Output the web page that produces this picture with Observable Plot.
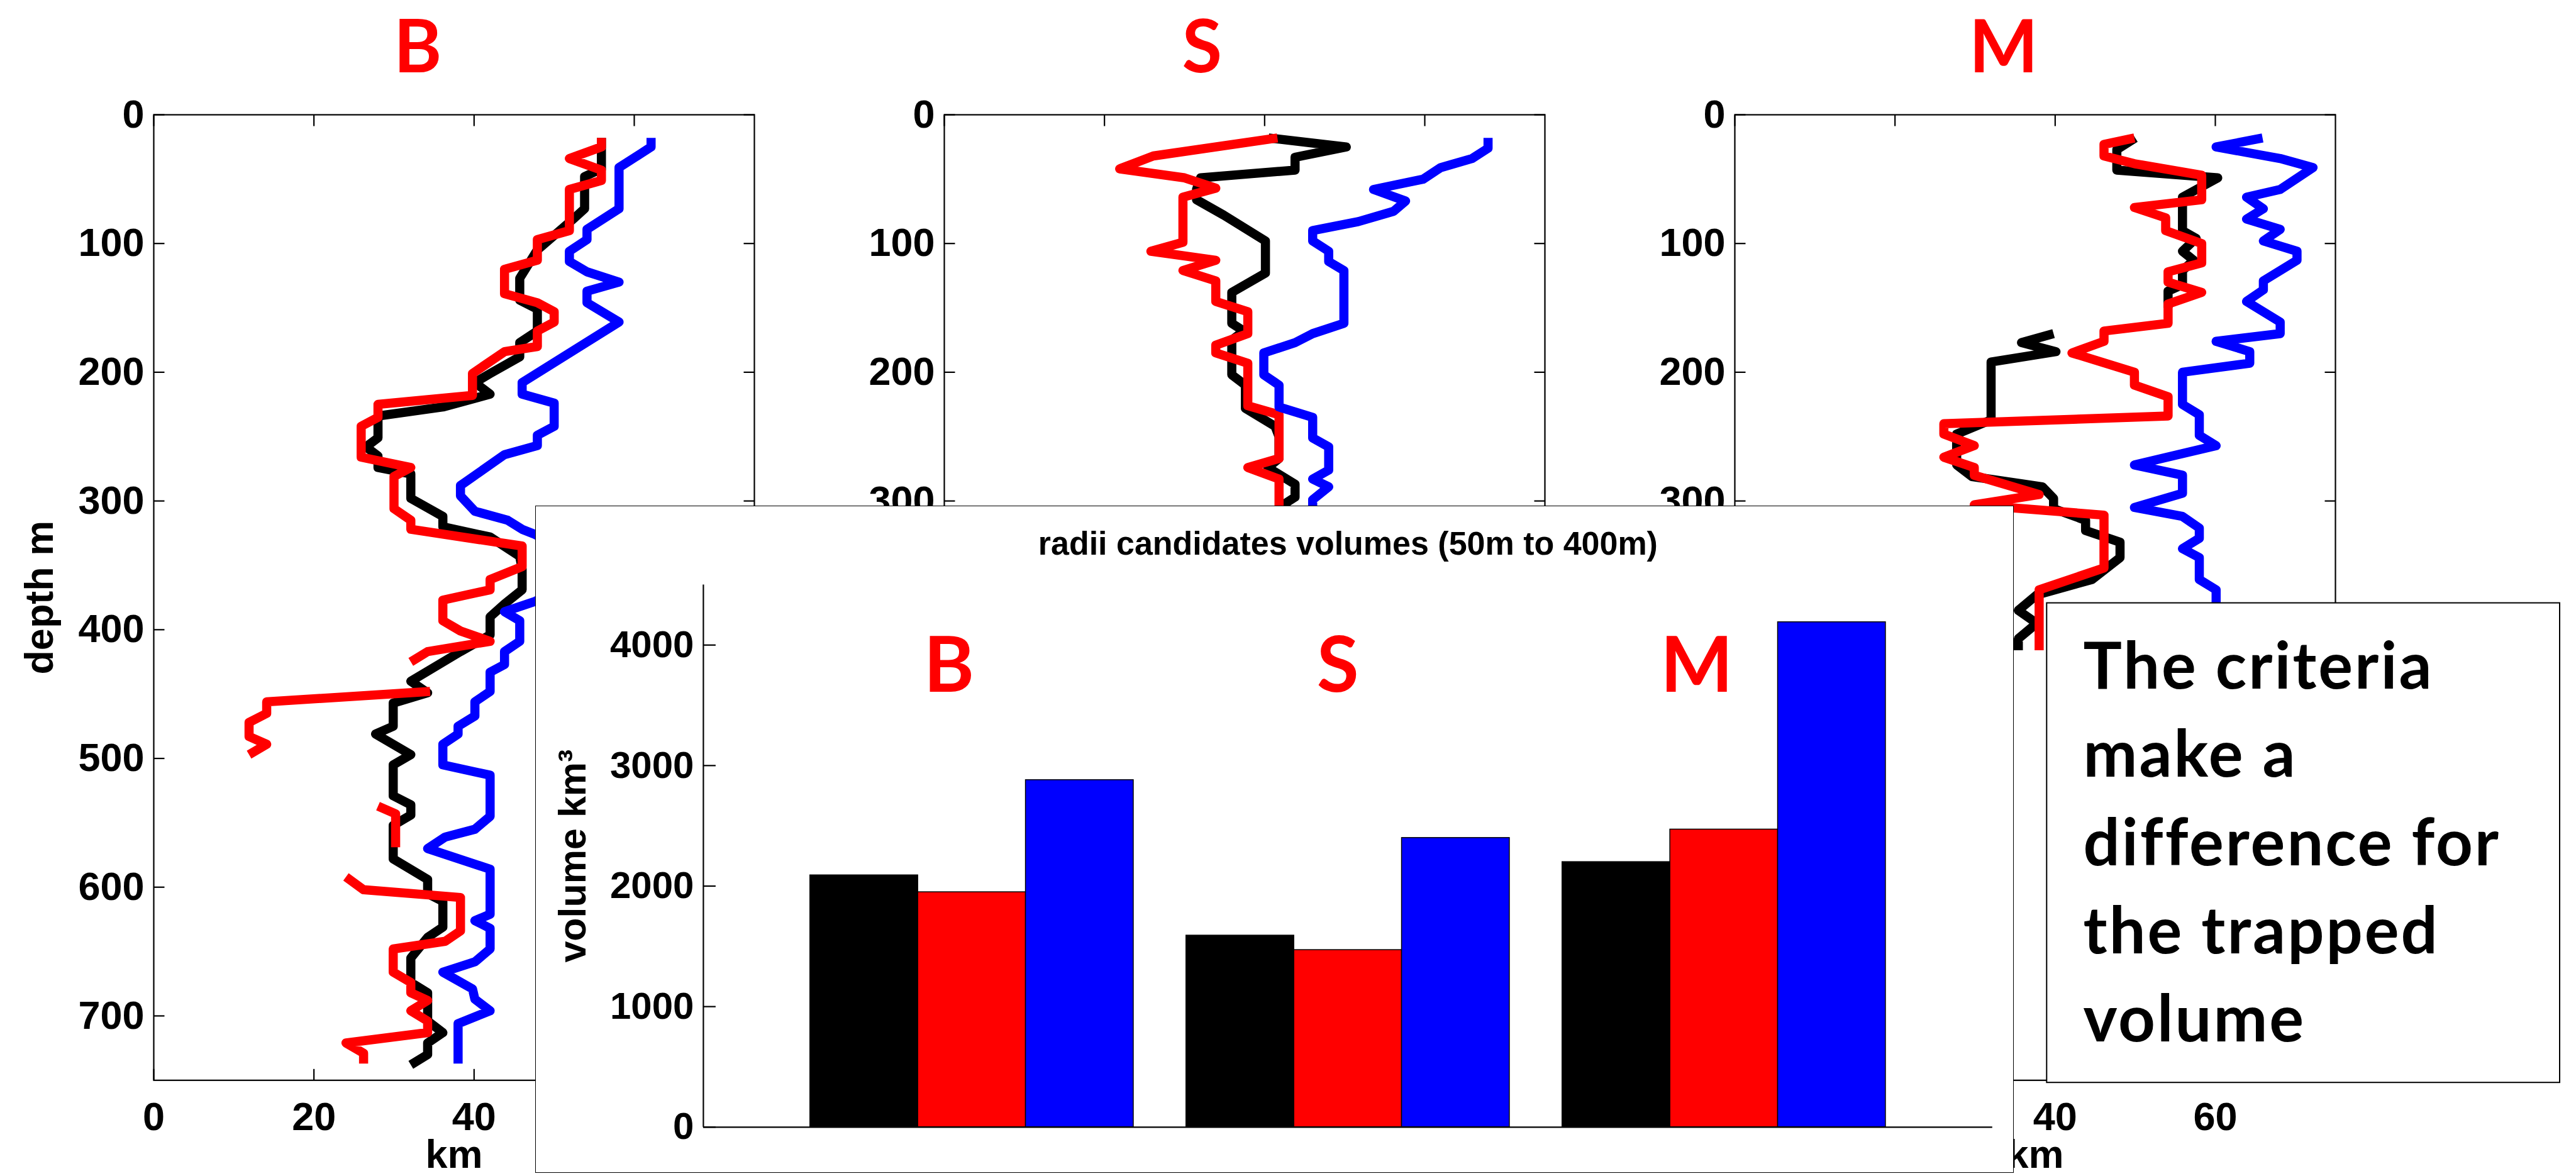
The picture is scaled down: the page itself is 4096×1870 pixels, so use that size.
<!DOCTYPE html>
<html><head><meta charset="utf-8">
<script src="https://cdn.jsdelivr.net/npm/d3@7"></script>
<script src="https://cdn.jsdelivr.net/npm/@observablehq/plot@0.6"></script>
<style>
html,body{margin:0;padding:0;background:#fff;}
#root{position:relative;width:4096px;height:1870px;overflow:hidden;background:#fff;}
#root > *{position:absolute;}
</style></head><body><div id="root"></div>
<script>
// ---------- data ----------
const panelNames = ["B", "S", "M"];
const depthTicks = [0, 100, 200, 300, 400, 500, 600, 700];
const kmTicks = [0, 20, 40, 60];
const kmDomain = [0, 75];
const depthDomain = [0, 750];
// tick labels not hidden behind the inset / note box
const visibleDepthLabels = [[0, 100, 200, 300, 400, 500, 600, 700], [0, 100, 200, 300], [0, 100, 200, 300]];
const visibleKmLabels = [[0, 20, 40], [], [40, 60]];

// [km, depth m] ; [null,null] = gap
const B_black = [[55.9,18],[55.9,42],[53.8,48],[53.8,73],[52.2,82],[47.9,105],[45.7,127],[45.7,144],[47.9,151],[47.9,168],[45.7,177],[45.7,188],[42,201],[40.1,208],[42,217],[36.1,227],[28,234],[28,251],[26.5,258],[28,265],[28,274],[32.1,279],[32.1,298],[36.1,312],[36.1,320],[42,328],[45.7,343],[46,353],[46,369],[43.8,380],[42,390],[42,404],[38.3,417],[32.1,440],[34.2,449],[29.9,457],[29.9,475],[27.7,481],[32.1,497],[29.9,505],[29.9,529],[32.1,536],[32.1,544],[29.9,552],[29.9,578],[34.2,594],[34.2,605],[36.1,611],[36.1,631],[34.2,639],[32.1,655],[32.1,674],[34.2,682],[34.2,704],[36.1,713],[34.2,721],[34.2,730],[32.1,738]];
const B_red = [[55.9,18],[55.9,25],[51.9,34],[55.9,43],[55.9,51],[51.9,58],[51.9,90],[47.9,97],[47.9,113],[43.8,120],[43.8,139],[47.9,146],[50,153],[50,161],[47.9,168],[47.9,180],[43.8,184],[39.8,201],[39.8,218],[28,225],[28,235],[25.9,242],[25.9,266],[32.1,274],[30,281],[30,306],[32.1,315],[32.1,322],[46,335],[46,351],[42,361],[42,369],[36.1,377],[36.1,393],[38.3,401],[42,409],[34.2,417],[32.1,425],[null,null],[34.5,448],[14.1,456],[14.1,465],[11.9,472],[11.9,483],[14.1,489],[11.9,497],[null,null],[28,537],[30.2,543],[30.2,569],[null,null],[24,592],[26.2,602],[38.3,608],[38.3,634],[36.4,642],[29.9,648],[29.9,666],[32.1,674],[32.1,682],[34.2,688],[32.1,696],[34.2,704],[34.2,713],[24,721],[26.2,729],[26.2,737]];
const B_blue = [[62.1,18],[62.1,25],[58.1,41],[58.1,73],[54.1,89],[54.1,97],[51.9,106],[51.9,114],[54.1,122],[58.1,130],[54.1,137],[54.1,146],[58.1,161],[46,208],[46,217],[50,224],[50,242],[47.9,249],[47.9,257],[43.8,264],[38.3,288],[38.3,296],[40.1,308],[44.2,315],[46,322],[47.6,326],[52,340],[52,365],[47.6,378],[43.8,386],[45.7,393],[45.7,409],[43.8,417],[43.8,427],[42,433],[42,448],[40.1,456],[40.1,467],[38,475],[38,481],[36.1,489],[36.1,505],[42,513],[42,545],[40.1,555],[36.4,561],[34.2,570],[42,586],[42,621],[40.1,626],[42,632],[42,648],[40.1,658],[36.1,666],[39.8,679],[40.1,687],[42,696],[38,706],[38,737]];

const S_black = [[40.5,18],[50.2,25],[43.8,33],[43.8,43],[32,49],[31.5,58],[31.5,66],[34.9,78],[40.1,98],[40.1,123],[35.9,138],[35.9,162],[37.4,168],[35.9,175],[35.9,202],[37.6,210],[37.6,228],[41.3,242],[41.8,250],[41.8,267],[40.4,274],[43.8,287],[43.8,297],[42.3,303],[42.3,312]];
const S_red = [[41.6,18],[26.1,32],[21.9,42],[30,49],[33.9,57],[29.8,64],[29.8,99],[25.8,106],[33.9,113],[29.8,121],[33.9,129],[33.9,145],[37.9,153],[37.9,170],[33.9,179],[33.9,185],[37.9,193],[37.9,226],[41.8,233],[41.8,267],[37.9,274],[41.8,283],[41.8,312]];
const S_blue = [[67.9,18],[67.9,26],[65.9,34],[62,41],[59.8,50],[53.6,58],[57.6,67],[56.1,75],[51.7,83],[46,90],[46,98],[48,106],[48,114],[49.9,121],[49.9,162],[46,170],[43.8,177],[39.9,185],[39.9,202],[41.8,210],[41.8,227],[46,235],[46,251],[48,258],[48,276],[46,283],[48,289],[46,299],[46,312]];

const M_black = [[50,18],[47.7,27],[47.7,43],[60.3,49],[55.9,64],[55.9,90],[57.6,96],[55.9,106],[57.3,113],[55.9,121],[55.9,132],[54.1,137],[54.1,150],[null,null],[39.8,170],[35.8,177],[40.1,184],[32,192],[32,237],[27.7,248],[27.7,272],[29.6,281],[38.4,289],[39.8,298],[39.8,306],[43.8,315],[43.8,323],[48.1,332],[48.1,344],[44.6,361],[37.7,373],[35.4,385],[37.7,395],[35.4,407],[35.4,416]];
const M_red = [[49.9,18],[46.1,23],[46.1,32],[49.9,38],[58.3,47],[58.3,66],[49.9,72],[53.8,80],[53.8,90],[58.3,100],[58.3,115],[54.1,122],[54.1,130],[58.3,138],[54.1,147],[54.1,162],[46.1,168],[46.1,176],[42.1,185],[49.9,200],[49.9,210],[54.1,219],[54.1,234],[26.1,240],[26.1,248],[29.9,257],[26.1,266],[29.9,274],[29.9,280],[38,295],[29.9,303],[46.1,311],[46.1,352],[38,369],[38,416]];
const M_blue = [[65.9,18],[60.1,25],[68.1,34],[72.2,41],[68.1,58],[63.9,64],[66,73],[63.9,81],[68.1,89],[66,98],[70.2,106],[70.2,113],[66,129],[66,136],[63.9,145],[68.1,161],[68.1,170],[60.1,176],[64.3,184],[64.3,193],[55.9,200],[55.9,225],[58,233],[58,249],[60.1,257],[49.9,272],[55.9,280],[55.9,294],[49.9,305],[55.9,312],[58,321],[58,329],[55.9,337],[58,344],[58,361],[60.1,369],[60.1,392]];

// inset bar chart
const barGroups = ["B", "S", "M"];
const volBlack = [2090, 1590, 2200];
const volRed = [1950, 1470, 2470];
const volBlue = [2880, 2400, 4190];
const volTicks = [0, 1000, 2000, 3000, 4000];
const volDomain = [0, 4500];
const barTitle = "radii candidates volumes (50m to 400m)";
const noteLines = ["The criteria", "make a", "difference for", "the trapped", "volume"];

// ---------- layout (output px) ----------
const root = document.getElementById("root");
const C = {black: "#000000", red: "#ff0000", blue: "#0000ff"};
const AX_FONT = "'Liberation Sans', Arial, Helvetica, sans-serif";
const FW = 955, FH = 1535.3, FT = 181.5;
const PM = {l: 230, r: 20, t: 20, b: 170};

function profilePanel(series, frameLeft, k) {
  const marks = [
    ...series.map(([data, color]) => Plot.line(data, {x: d => d[0], y: d => d[1], stroke: color, strokeWidth: 14.5, strokeLinejoin: "round", strokeLinecap: "butt"})),
    Plot.frame({stroke: "black", strokeWidth: 2.2}),
    Plot.axisX(kmTicks, {anchor: "bottom", tickSize: -17.5, strokeWidth: 2.2, fill: "none", label: null}),
    Plot.axisX(kmTicks, {anchor: "top", tickSize: -17.5, strokeWidth: 2.2, fill: "none", label: null}),
    Plot.axisY(depthTicks, {anchor: "left", tickSize: -17.5, strokeWidth: 2.2, fill: "none", label: null}),
    Plot.axisY(depthTicks, {anchor: "right", tickSize: -17.5, strokeWidth: 2.2, fill: "none", label: null}),
    Plot.axisY(visibleDepthLabels[k], {anchor: "left", tickSize: 0, tickPadding: 15, label: null})
  ];
  if (visibleKmLabels[k].length) {
    marks.push(Plot.axisX(visibleKmLabels[k], {anchor: "bottom", tickSize: 0, tickPadding: 34, label: null}));
    marks.push(Plot.text(["km"], {text: d => d, frameAnchor: "bottom", textAnchor: "middle", dy: 139, lineAnchor: "bottom"}));
  }
  if (k === 0) marks.push(Plot.text(["depth m"], {text: d => d, frameAnchor: "left", textAnchor: "middle", rotate: -90, dx: -181}));
  const svg = Plot.plot({
    width: PM.l + FW + PM.r, height: PM.t + FH + PM.b,
    marginLeft: PM.l, marginRight: PM.r, marginTop: PM.t, marginBottom: PM.b,
    x: {domain: kmDomain},
    y: {domain: depthDomain, reverse: true},
    style: {fontFamily: AX_FONT, fontWeight: "bold", fontSize: "63px", color: "black", background: "transparent", overflow: "visible"},
    marks
  });
  svg.style.left = (frameLeft - PM.l) + "px";
  svg.style.top = (FT - PM.t) + "px";
  svg.style.maxWidth = "none";
  root.appendChild(svg);
}

profilePanel([[B_black, C.black], [B_red, C.red], [B_blue, C.blue]], 243.5, 0);
profilePanel([[S_black, C.black], [S_red, C.red], [S_blue, C.blue]], 1501.0, 1);
profilePanel([[M_black, C.black], [M_red, C.red], [M_blue, C.blue]], 2757.8, 2);

// ---------- inset ----------
const IN = {x: 850.7, y: 804.1, w: 2351.8, h: 1061.4};
const inset = document.createElement("div");
Object.assign(inset.style, {left: IN.x + "px", top: IN.y + "px", width: IN.w + "px", height: IN.h + "px",
  boxSizing: "border-box", border: "1.5px solid black", background: "white"});
root.appendChild(inset);

const bars = [];
[volBlack, volRed, volBlue].forEach((vals, i) => vals.forEach((v, g) => bars.push({g: g + 1, i, v, c: [C.black, C.red, C.blue][i]})));
const BW = 0.2866;
const xDom = [0.286, 3.714];
const barSvg = Plot.plot({
  width: IN.w, height: IN.h,
  marginLeft: 266.9, marginRight: 35, marginTop: 125.4, marginBottom: 73.6,
  x: {domain: xDom, axis: null},
  y: {domain: volDomain},
  style: {fontFamily: AX_FONT, fontWeight: "bold", fontSize: "60px", color: "black", background: "transparent", overflow: "visible"},
  marks: [
    Plot.rect(bars, {x1: d => d.g + (d.i - 1.5) * BW, x2: d => d.g + (d.i - 0.5) * BW, y1: 0, y2: d => d.v, fill: d => d.c, stroke: "black", strokeWidth: 1.5}),
    Plot.ruleY([volDomain[0]], {stroke: "black", strokeWidth: 2.2}),
    Plot.ruleX([xDom[0]], {stroke: "black", strokeWidth: 2.2}),
    Plot.axisY(volTicks, {anchor: "left", tickSize: -20, strokeWidth: 2.2, fill: "none", label: null}),
    Plot.axisY(volTicks, {anchor: "left", tickSize: 0, tickPadding: 15, tickFormat: d => String(d), label: null}),
    Plot.text([barTitle], {text: d => d, frameAnchor: "top", textAnchor: "middle", dy: -48, lineAnchor: "bottom", fontSize: 52}),
    Plot.text(["volume km³"], {text: d => d, frameAnchor: "left", textAnchor: "middle", rotate: -90, dx: -207, fontSize: 61})
  ]
});
barSvg.style.left = IN.x + "px";
barSvg.style.top = IN.y + "px";
barSvg.style.maxWidth = "none";
root.appendChild(barSvg);

// ---------- annotations overlay ----------
const ns = "http://www.w3.org/2000/svg";
const ov = document.createElementNS(ns, "svg");
ov.setAttribute("width", 4096); ov.setAttribute("height", 1870);
ov.style.left = "0px"; ov.style.top = "0px";
root.appendChild(ov);
function txt(s, x, y, size, fill, anchor) {
  const t = document.createElementNS(ns, "text");
  t.setAttribute("x", x); t.setAttribute("y", y);
  t.setAttribute("font-family", "Lato, 'Open Sans', sans-serif");
  t.setAttribute("font-weight", "700");
  t.setAttribute("font-size", size);
  t.setAttribute("fill", fill);
  t.setAttribute("text-anchor", anchor);
  t.textContent = s;
  ov.appendChild(t);
  return t;
}
// panel titles
[664.1, 1911.4, 3185.7].forEach((x, i) => txt(panelNames[i], x, 115, 116, C.red, "middle"));
// inset group labels
[1509, 2127.2, 2698].forEach((x, i) => txt(barGroups[i], x, 1100.1, 122, C.red, "middle"));
// note box
const box = document.createElementNS(ns, "rect");
box.setAttribute("x", 3254.3); box.setAttribute("y", 958.6);
box.setAttribute("width", 815.7); box.setAttribute("height", 762.6);
box.setAttribute("fill", "white"); box.setAttribute("stroke", "black"); box.setAttribute("stroke-width", 2);
ov.appendChild(box);
noteLines.forEach((s, k) => {
  const t = txt(s, 3312.6, 1095 + k * 140.3, 102.6, "black", "start");
  t.setAttribute("letter-spacing", "3");
});
</script></body></html>
